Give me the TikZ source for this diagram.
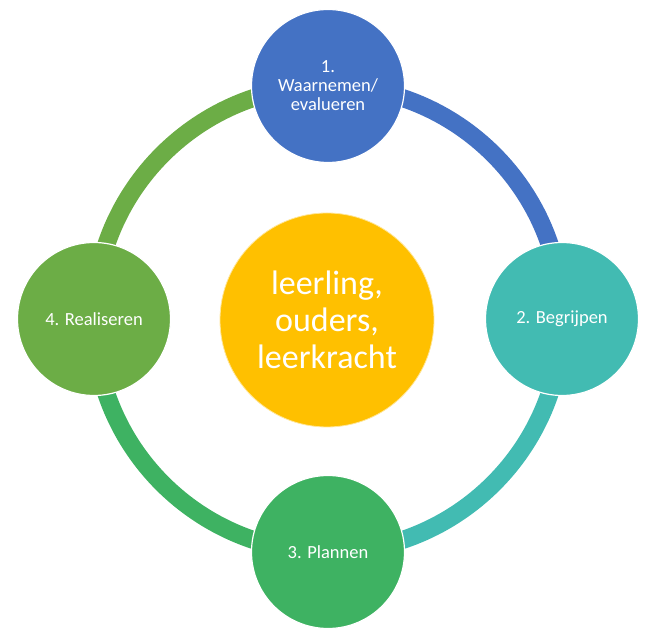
\documentclass[tikz,border=0pt]{standalone}
\usepackage{fontspec}
\setmainfont{Carlito}
\usetikzlibrary{backgrounds}
\definecolor{cblue}{RGB}{68,114,196}
\definecolor{cteal}{RGB}{66,187,178}
\definecolor{cgreen}{RGB}{62,178,98}
\definecolor{clime}{RGB}{108,173,70}
\definecolor{cgold}{RGB}{255,192,0}
\tikzset{
  stepnode/.style={circle, minimum size=153pt, inner sep=0pt, draw=white, line width=1.2pt,
    text=white, align=center, font=\fontsize{18.5}{19}\selectfont},
  hubnode/.style={circle, minimum size=214pt, inner sep=0pt, fill=cgold, draw=cgold!40!white, line width=0.8pt,
    text=white, align=center, font=\fontsize{34}{37}\selectfont},
  ringarc/.style={line width=18pt, bend left=45}
}
\begin{document}
\begin{tikzpicture}[x=1pt,y=1pt]
\useasboundingbox (0,0) rectangle (648,631);
\node[hubnode] (hub) at (327,311) {leerling,\\ouders,\\leerkracht};
\node[stepnode, fill=cblue] (s1) at (328,545) {1.\\Waarnemen/\\evalueren};
\node[stepnode, fill=cteal] (s2) at (562,312) {2. Begrijpen};
\node[stepnode, fill=cgreen] (s3) at (328,79) {3. Plannen};
\node[stepnode, fill=clime] (s4) at (94,312) {4. Realiseren};
\begin{scope}[on background layer]
\draw[ringarc, cblue] (s1.center) to (s2.center);
\draw[ringarc, cteal] (s2.center) to (s3.center);
\draw[ringarc, cgreen] (s3.center) to (s4.center);
\draw[ringarc, clime] (s4.center) to (s1.center);
\end{scope}
\end{tikzpicture}
\end{document}
